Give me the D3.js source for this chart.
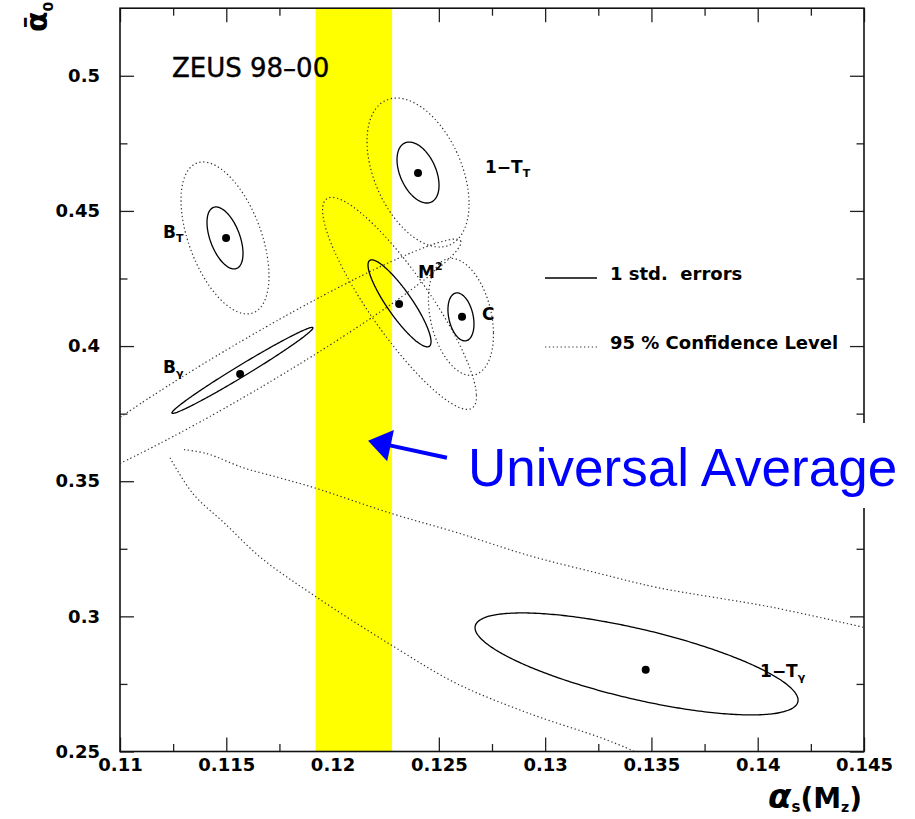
<!DOCTYPE html>
<html><head><meta charset="utf-8">
<script src="https://cdn.jsdelivr.net/npm/d3@7"></script>
<style>
body{margin:0;background:#fff;}
svg{display:block;}
text{font-family:"DejaVu Sans",sans-serif;}
</style></head><body>
<svg id="chart" width="915" height="819"></svg>
<script>
// ---------------- data ----------------
const fitNames   = ["B_T", "1-T_T", "M2", "C", "B_gamma", "1-T_gamma"];
// best-fit points (alpha_s(M_Z), alpha_0)
const bestAlphaS = [0.11499, 0.12402, 0.12313, 0.12609, 0.11565, 0.13473];
const bestAlpha0 = [0.4400, 0.4640, 0.4156, 0.4108, 0.3897, 0.2802];
// 1 std. error contours (centre, sigma_as, sigma_a0, correlation)
const sdCenAlphaS = [0.11494, 0.12402, 0.12315, 0.12604, 0.11576, 0.13430];
const sdCenAlpha0 = [0.4400, 0.4642, 0.4158, 0.4108, 0.3910, 0.2824];
const sdSigAlphaS = [0.000847, 0.000988, 0.001482, 0.000612, 0.003317, 0.007598];
const sdSigAlpha0 = [0.01147, 0.01128, 0.01609, 0.00888, 0.01591, 0.01887];
const sdCorr      = [-0.50, -0.42, -0.88, -0.30, 0.988, -0.71];
// 95% CL contours (closed ones)
const clCenAlphaS = [0.11494, 0.12402, 0.12315, 0.12604, 0.11602];
const clCenAlpha0 = [0.4400, 0.4642, 0.4158, 0.4108, 0.3926];
const clSigAlphaS = [0.00207, 0.00240, 0.00362, 0.00153, 0.01002];
const clSigAlpha0 = [0.02812, 0.02756, 0.03922, 0.02164, 0.04699];
const clCorr      = [-0.50, -0.42, -0.88, -0.30, 0.974];
// 95% CL contour of 1-T_gamma (open, two branches)
const tgUpperAlphaS = [0.11301, 0.11409, 0.11579, 0.11748, 0.11913, 0.12280, 0.12585, 0.12924, 0.13258, 0.13526, 0.14072, 0.14500];
const tgUpperAlpha0 = [0.3617, 0.3602, 0.3550, 0.3513, 0.3476, 0.3380, 0.3310, 0.3225, 0.3158, 0.3107, 0.3033, 0.2959];
const tgLowerAlphaS = [0.11235, 0.11343, 0.11494, 0.11663, 0.11913, 0.12280, 0.12585, 0.12924, 0.13258, 0.13409, 0.13440];
const tgLowerAlpha0 = [0.3587, 0.3454, 0.3343, 0.3217, 0.3077, 0.2892, 0.2751, 0.2641, 0.2552, 0.2504, 0.2490];
// universal average band
const bandAlphaS = [0.1192, 0.1228];
// ticks
const xTicks = [0.11, 0.115, 0.12, 0.125, 0.13, 0.135, 0.14, 0.145];
const xMinor = [0.1125, 0.1175, 0.1225, 0.1275, 0.1325, 0.1375, 0.1425];
const yTicks = [0.25, 0.3, 0.35, 0.4, 0.45, 0.5];
const yMinor = [0.275, 0.325, 0.375, 0.425, 0.475];
// labels of the fits (anchor in data units)
const labelAlphaS = [0.11202, 0.12717, 0.12402, 0.12703, 0.11202, 0.14011];
const labelAlpha0 = [0.4400, 0.4640, 0.4252, 0.4096, 0.3900, 0.2776];
const labelMain = ["B", "1\u2212T", "M", "C", "B", "1\u2212T"];
const labelSub  = ["T", "T", "", "", "\u03b3", "\u03b3"];
const labelSup  = ["", "", "2", "", "", ""];
// arrow (data units): tail, tip
const arrowAlphaS = [0.12538, 0.12167];
const arrowAlpha0 = [0.3587, 0.3650];

// ---------------- chart ----------------
const svg = d3.select("#chart");
const x = d3.scaleLinear().domain([0.11, 0.145]).range([120, 864]);
const y = d3.scaleLinear().domain([0.25, 0.525]).range([751.5, 8.2]);
const X0 = x.range()[0], X1 = x.range()[1], Y0 = y.range()[0], Y1 = y.range()[1];

svg.append("defs").append("clipPath").attr("id", "plotclip")
  .append("rect").attr("x", X0).attr("y", Y1).attr("width", X1 - X0).attr("height", Y0 - Y1);

const tickStyle = g => {
  g.select(".domain").remove();
  g.selectAll(".tick line").attr("stroke", "#222").attr("stroke-width", 1.3);
  g.selectAll(".tick text").style("font-family", "DejaVu Sans").style("font-weight", "bold")
    .style("font-size", "18px").attr("fill", "#000");
};
const fmt = d => String(d);

// bottom
svg.append("g").attr("transform", `translate(0,${Y0})`)
  .call(d3.axisBottom(x).tickValues(xTicks).tickFormat(fmt).tickSizeInner(-14).tickSizeOuter(0).tickPadding(7)).call(tickStyle);
svg.append("g").attr("transform", `translate(0,${Y0})`)
  .call(d3.axisBottom(x).tickValues(xMinor).tickFormat("").tickSizeInner(-7.5).tickSizeOuter(0)).call(tickStyle);
// top
svg.append("g").attr("transform", `translate(0,${Y1})`)
  .call(d3.axisTop(x).tickValues(xTicks).tickFormat("").tickSizeInner(-14).tickSizeOuter(0)).call(tickStyle);
svg.append("g").attr("transform", `translate(0,${Y1})`)
  .call(d3.axisTop(x).tickValues(xMinor).tickFormat("").tickSizeInner(-7.5).tickSizeOuter(0)).call(tickStyle);
// left
svg.append("g").attr("transform", `translate(${X0},0)`)
  .call(d3.axisLeft(y).tickValues(yTicks).tickFormat(fmt).tickSizeInner(-14).tickSizeOuter(0).tickPadding(20)).call(tickStyle);
svg.append("g").attr("transform", `translate(${X0},0)`)
  .call(d3.axisLeft(y).tickValues(yMinor).tickFormat("").tickSizeInner(-7.5).tickSizeOuter(0)).call(tickStyle);
// right
svg.append("g").attr("transform", `translate(${X1},0)`)
  .call(d3.axisRight(y).tickValues(yTicks).tickFormat("").tickSizeInner(-14).tickSizeOuter(0)).call(tickStyle);
svg.append("g").attr("transform", `translate(${X1},0)`)
  .call(d3.axisRight(y).tickValues(yMinor).tickFormat("").tickSizeInner(-7.5).tickSizeOuter(0)).call(tickStyle);

// universal average band
svg.append("rect")
  .attr("x", x(bandAlphaS[0])).attr("width", x(bandAlphaS[1]) - x(bandAlphaS[0]))
  .attr("y", Y1).attr("height", Y0 - Y1).attr("fill", "#ffff00");

// frame
svg.append("rect").attr("x", X0).attr("y", Y1).attr("width", X1 - X0).attr("height", Y0 - Y1)
  .attr("fill", "none").attr("stroke", "#111").attr("stroke-width", 1.6);

// contours
const ellipsePts = (cx, cy, sx, sy, r) => d3.range(0, 360, 2).map(a => {
  const t = a * Math.PI / 180;
  return [cx + sx * Math.cos(t), cy + sy * (r * Math.cos(t) + Math.sqrt(1 - r * r) * Math.sin(t))];
});
const closedLine = d3.line().x(d => x(d[0])).y(d => y(d[1])).curve(d3.curveCardinalClosed.tension(0.3));
const openLine = d3.line().x(d => x(d[0])).y(d => y(d[1])).curve(d3.curveCatmullRom);

const cont = svg.append("g").attr("clip-path", "url(#plotclip)");
const dotted = sel => sel.attr("fill", "none").attr("stroke", "#333").attr("stroke-width", 1.2)
  .attr("stroke-dasharray", "1.3 2.6");

clCenAlphaS.forEach((c, i) => {
  cont.append("path").attr("d", closedLine(ellipsePts(c, clCenAlpha0[i], clSigAlphaS[i], clSigAlpha0[i], clCorr[i]))).call(dotted);
});
cont.append("path").attr("d", openLine(tgUpperAlphaS.map((v, i) => [v, tgUpperAlpha0[i]]))).call(dotted);
cont.append("path").attr("d", openLine(tgLowerAlphaS.map((v, i) => [v, tgLowerAlpha0[i]]))).call(dotted);

sdCenAlphaS.forEach((c, i) => {
  cont.append("path").attr("d", closedLine(ellipsePts(c, sdCenAlpha0[i], sdSigAlphaS[i], sdSigAlpha0[i], sdCorr[i])))
    .attr("fill", "none").attr("stroke", "#000").attr("stroke-width", 1.3);
});

// best-fit points
svg.append("g").selectAll("circle").data(bestAlphaS).join("circle")
  .attr("cx", d => x(d)).attr("cy", (d, i) => y(bestAlpha0[i])).attr("r", 4).attr("fill", "#000");

// fit labels
labelMain.forEach((m, i) => {
  const t = svg.append("text").attr("x", x(labelAlphaS[i])).attr("y", y(labelAlpha0[i]))
    .style("font-size", "17px").style("font-weight", "bold");
  t.append("tspan").text(m);
  if (labelSub[i]) t.append("tspan").attr("dy", 4).style("font-size", "11px").text(labelSub[i]);
  if (labelSup[i]) t.append("tspan").attr("dy", -8).style("font-size", "11px").text(labelSup[i]);
});

// legend
svg.append("line").attr("x1", 545).attr("x2", 597).attr("y1", 278).attr("y2", 278).attr("stroke", "#000").attr("stroke-width", 1.3);
svg.append("line").attr("x1", 545).attr("x2", 597).attr("y1", 347).attr("y2", 347).call(dotted);
svg.append("text").attr("x", 610).attr("y", 280).attr("xml:space", "preserve").style("white-space", "pre")
  .style("font-size", "18px").style("font-weight", "bold").text("1 std.  errors");
svg.append("text").attr("x", 610).attr("y", 349).attr("xml:space", "preserve").style("white-space", "pre")
  .style("font-size", "18px").style("font-weight", "bold").text("95 % Confidence Level");

// title
svg.append("text").attr("x", 172).attr("y", 77).style("font-size", "26px").style("stroke", "#000").style("stroke-width", 0.4).text("ZEUS 98\u201300");

// Universal average annotation
svg.append("rect").attr("x", 466).attr("y", 423).attr("width", 444).attr("height", 85).attr("fill", "#fff");
svg.append("text").attr("x", 468).attr("y", 486).style("font-family", "'Liberation Sans', Arial, sans-serif")
  .style("font-size", "53px").attr("fill", "#0000ff").text("Universal Average");
{
  const tx = x(arrowAlphaS[0]), ty = y(arrowAlpha0[0]), hx = x(arrowAlphaS[1]), hy = y(arrowAlpha0[1]);
  const dx = hx - tx, dy = hy - ty, L = Math.hypot(dx, dy), ux = dx / L, uy = dy / L;
  const headL = 23, headW = 16;
  const bx = hx - ux * headL, by = hy - uy * headL;
  svg.append("line").attr("x1", tx).attr("y1", ty).attr("x2", bx + ux * 2).attr("y2", by + uy * 2)
    .attr("stroke", "#0000ff").attr("stroke-width", 4);
  svg.append("path").attr("d", d3.line()([[hx, hy], [bx - uy * headW, by + ux * headW], [bx + uy * headW, by - ux * headW]]) + "Z")
    .attr("fill", "#0000ff");
}

// axis titles
{
  const t = svg.append("text").attr("x", 862).attr("y", 808).attr("text-anchor", "end").style("font-weight", "bold");
  t.append("tspan").style("font-size", "34px").style("font-style", "italic").text("\u03b1");
  t.append("tspan").attr("dy", 4).style("font-size", "15px").text("s");
  t.append("tspan").attr("dy", -4).style("font-size", "28px").text("(M");
  t.append("tspan").attr("dy", 4).style("font-size", "14px").text("z");
  t.append("tspan").attr("dy", -4).style("font-size", "28px").text(")");
}
{
  const t = svg.append("text").attr("transform", "translate(47,32) rotate(-90)").style("font-size", "30px").style("font-weight", "bold");
  t.append("tspan").text("\u1fb1");
  t.append("tspan").attr("dy", 6).style("font-size", "14px").text("0");
}
</script>
</body></html>
